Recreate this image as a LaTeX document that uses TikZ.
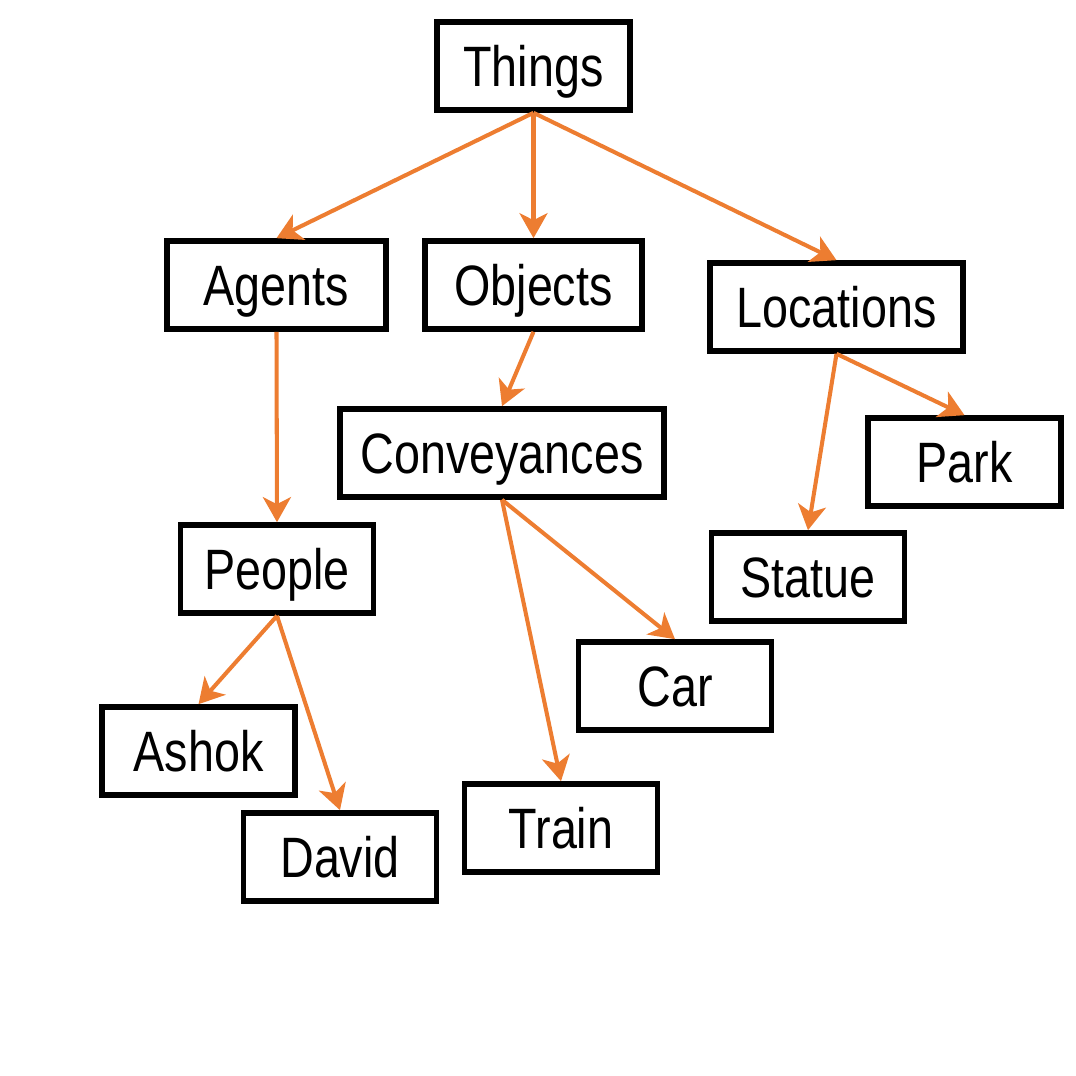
\documentclass[tikz,border=0pt]{standalone}
\usepackage{fontspec}
\setmainfont{Liberation Sans}[FakeStretch=0.82]
\usepackage{tikz}
\usetikzlibrary{arrows.meta}
\definecolor{linkorange}{RGB}{237,125,49}

\begin{document}
\begin{tikzpicture}[
		box/.style={draw=black, line width=1.6pt, fill=white, minimum width=1.93cm, minimum height=0.88cm, inner sep=0pt, text height=0.41cm, text depth=0pt, font=\fontsize{16.2}{19}\selectfont},
		link/.style={-{Stealth[length=0.25cm, width=0.28cm, inset=0.07cm]}, line width=1.15pt, linkorange}
	]
				\useasboundingbox (0,0) rectangle (10.76,10.76);
				\node[box] (things) at (5.335,10.10) {Things};
				\node[box, minimum width=2.19cm] (agents) at (2.765,7.91) {Agents};
				\node[box, minimum width=2.17cm] (objects) at (5.335,7.91) {Objects};
				\node[box, minimum width=2.53cm] (locations) at (8.365,7.69) {Locations};
				\node[box, minimum width=3.24cm] (conveyances) at (5.02,6.23) {Conveyances};
				\node[box] (park) at (9.645,6.14) {Park};
				\node[box] (people) at (2.77,5.07) {People};
				\node[box] (statue) at (8.08,4.99) {Statue};
				\node[box] (car) at (6.75,3.90) {Car};
				\node[box] (ashok) at (1.985,3.25) {Ashok};
				\node[box] (train) at (5.61,2.48) {Train};
				\node[box] (david) at (3.40,2.19) {David};
				\draw[link] (things.south) -- (agents.north);
				\draw[link] (things.south) -- (objects.north);
				\draw[link] (things.south) -- (locations.north);
				\draw[link] (agents.south) -- (people.north);
				\draw[link] (objects.south) -- (conveyances.north);
				\draw[link] (locations.south) -- (park.north);
				\draw[link] (locations.south) -- (statue.north);
				\draw[link] (conveyances.south) -- (car.north);
				\draw[link] (conveyances.south) -- (train.north);
				\draw[link] (people.south) -- (ashok.north);
				\draw[link] (people.south) -- (david.north);
				\end{tikzpicture}
\end{document}
